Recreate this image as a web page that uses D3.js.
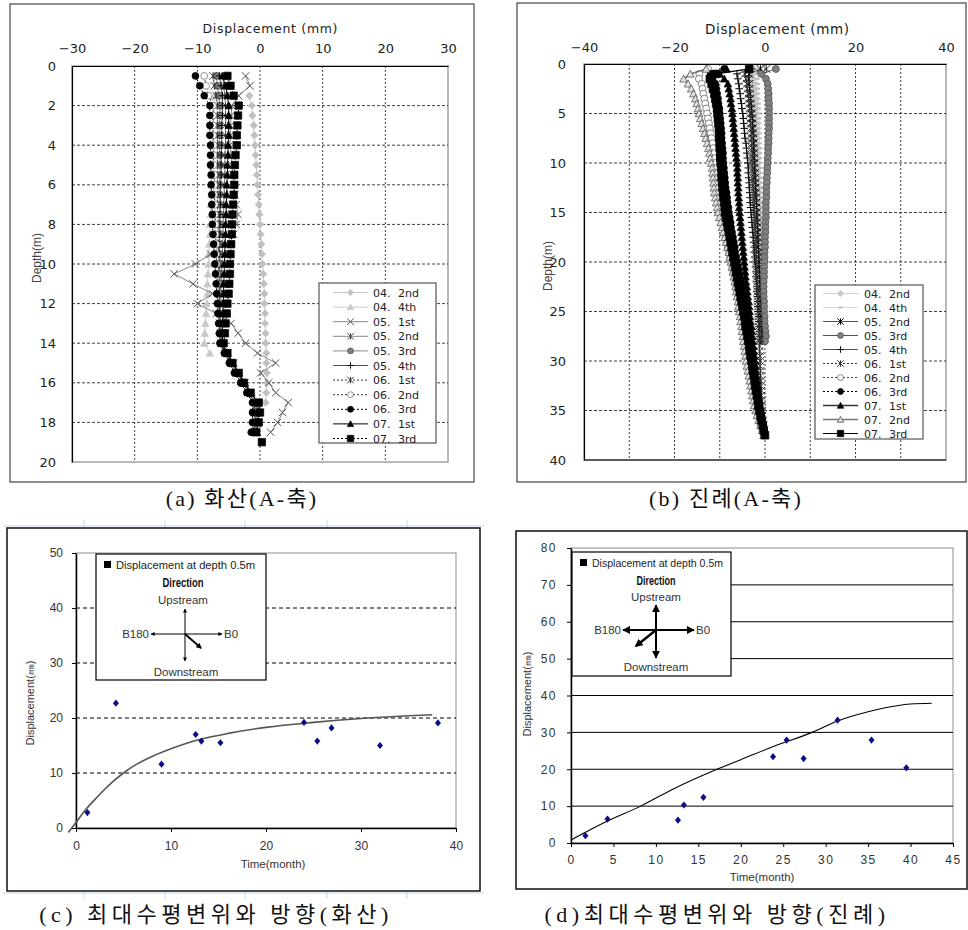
<!DOCTYPE html>
<html><head><meta charset="utf-8">
<script src="https://cdn.jsdelivr.net/npm/d3@7"></script>
<style>body{margin:0;background:#fff}svg{display:block}</style>
</head><body>
<script>
// ---------------- DATA ----------------
// Panel (a) 화산 — depth (m) and displacement (mm)
const depthA = [0.5,1,1.5,2,2.5,3,3.5,4,4.5,5,5.5,6,6.5,7,7.5,8,8.5,9,9.5,10,10.5,11,11.5,12,12.5,13,13.5,14,14.5,15,15.5,16,16.5,17,17.5,18,18.5,19];
const legendYearA = ["04.","04.","05.","05.","05.","05.","06.","06.","06.","07.","07."];
const legendOrdA  = ["2nd","4th","1st","2nd","3rd","4th","1st","2nd","3rd","1st","3rd"];
const a0402 = [null,null,-1.7,-1.3,-1.2,-1.0,-0.9,-0.8,-0.7,-0.6,-0.5,-0.4,-0.3,-0.2,-0.1,0.0,0.1,0.2,0.3,0.4,0.5,0.6,0.7,0.7,0.8,0.8,0.9,0.9,1.0,1.0,1.1,1.1,1.0,0.9];
const a0404 = [null,null,-7.2,-7.3,-7.4,-7.5,-7.5,-7.6,-7.6,-7.7,-7.7,-7.8,-7.8,-7.9,-7.9,-8.0,-8.0,-8.1,-8.2,-8.2,-8.3,-8.4,-8.4,-8.5,-8.6,-8.7,-8.8,-8.9,-8.0];
const a0501 = [-2.3,-1.6,-3.4,-4.5,-4.6,-4.7,-4.7,-4.8,-4.6,-4.5,-4.3,-4.2,-4.0,-3.8,-3.5,-3.8,-4.2,-5.5,-7.9,-10.3,-13.7,-10.7,-7.6,-10.0,-7.0,-4.6,-3.5,-2.3,-0.4,2.5,0.1,1.4,2.5,4.5,3.6,2.8,1.7];
const a0502 = [-6.0,-5.8,-5.6,-5.5,-5.5,-5.5,-5.5,-5.5,-5.6,-5.6,-5.6,-5.7,-5.7,-5.8,-5.8,-5.9,-5.9,-6.0,-6.0,-6.1,-6.1,-6.2,-6.2,-6.3,-6.3,-6.3,-6.2,-6.0,-5.2,-4.2,-3.4,-2.4,-1.5,-0.6,-0.5,-0.5,-0.6];
const a0503 = [-7.0,-6.8,-6.6,-6.4,-6.4,-6.5,-6.5,-6.5,-6.4,-6.4,-6.4,-6.5,-6.5,-6.4,-6.4,-6.4,-6.5,-6.5,-6.4,-6.4,-6.4,-6.3,-6.3,-6.4,-6.4,-6.3,-6.2,-6.1,-5.3,-4.4,-3.6,-2.6,-1.7,-0.8,-0.7,-0.7,-0.8];
const a0504 = [-6.5,-6.2,-6.0,-6.0,-6.0,-6.1,-6.1,-6.1,-6.2,-6.2,-6.2,-6.3,-6.3,-6.3,-6.4,-6.4,-6.4,-6.5,-6.5,-6.5,-6.5,-6.5,-6.5,-6.5,-6.4,-6.4,-6.3,-6.2,-5.4,-4.5,-3.7,-2.7,-1.8,-0.9,-0.8,-0.8,-0.9];
const a0601 = [-7.5,-7.3,-7.0,-6.8,-6.8,-6.8,-6.8,-6.8,-6.8,-6.8,-6.8,-6.8,-6.8,-6.8,-6.7,-6.7,-6.7,-6.7,-6.6,-6.6,-6.6,-6.5,-6.5,-6.5,-6.4,-6.4,-6.3,-6.2,-5.5,-4.6,-3.8,-2.8,-1.9,-1.0,-0.9,-0.9,-1.0];
const a0602 = [-8.9,-8.6,-8.2,-7.5,-7.5,-7.5,-7.5,-7.4,-7.4,-7.4,-7.3,-7.3,-7.3,-7.2,-7.2,-7.1,-7.1,-7.0,-7.0,-6.9,-6.9,-6.8,-6.8,-6.7,-6.6,-6.5,-6.4,-6.3,-5.6,-4.8,-4.0,-3.0,-2.0,-1.1,-1.1,-1.1,-1.2];
const a0603 = [-10.3,-9.6,-8.9,-8.0,-8.0,-8.0,-8.0,-7.9,-7.9,-7.9,-7.8,-7.8,-7.7,-7.7,-7.6,-7.6,-7.5,-7.4,-7.3,-7.2,-7.1,-7.0,-6.9,-6.8,-6.7,-6.6,-6.5,-6.4,-5.7,-4.9,-4.1,-3.1,-2.1,-1.2,-1.2,-1.2,-1.4];
const a0701 = [-6.0,-5.5,-5.2,-5.0,-5.0,-5.0,-5.0,-5.1,-5.1,-5.2,-5.2,-5.3,-5.3,-5.4,-5.4,-5.5,-5.5,-5.6,-5.6,-5.7,-5.7,-5.8,-5.8,-5.9,-5.9,-6.0,-6.0,-6.0,-5.2,-4.3,-3.4,-2.4,-1.4,-0.4,-0.3,-0.3,-0.5];
const a0703 = [-5.2,-4.7,-4.2,-3.4,-3.5,-3.6,-3.7,-3.7,-3.9,-4.0,-4.1,-4.1,-4.2,-4.3,-4.4,-4.5,-4.5,-4.6,-4.7,-4.8,-4.8,-4.9,-5.0,-5.2,-5.3,-5.5,-5.6,-5.8,-5.2,-4.4,-3.4,-2.6,-1.5,-0.2,0.0,-0.2,-0.6,0.3];

// Panel (b) 진례
const depthB = [0.5,1,1.5,2,2.5,3,3.5,4,4.5,5,5.5,6,6.5,7,7.5,8,8.5,9,9.5,10,10.5,11,11.5,12,12.5,13,13.5,14,14.5,15,15.5,16,16.5,17,17.5,18,18.5,19,19.5,20,20.5,21,21.5,22,22.5,23,23.5,24,24.5,25,25.5,26,26.5,27,27.5,28,28.5,29,29.5,30,30.5,31,31.5,32,32.5,33,33.5,34,34.5,35,35.5,36,36.5,37,37.5];
const legendYearB = ["04.","04.","05.","05.","05.","06.","06.","06.","07.","07.","07."];
const legendOrdB  = ["2nd","4th","2nd","3rd","4th","1st","2nd","3rd","1st","2nd","3rd"];
const b0402 = [-2.5,-2.8,-2.6,-2.4,-2.3,-2.2,-2.2,-2.1,-2.1,-2.0,-2.0,-1.9,-1.9,-1.8,-1.8,-1.8,-1.7,-1.7,-1.6,-1.6,-1.6,-1.5,-1.5,-1.5,-1.4,-1.4,-1.4,-1.3,-1.3,-1.3,-1.2,-1.2,-1.2,-1.1,-1.1,-1.1,-1.0,-1.0,-1.0,-0.9,-0.9,-0.9,-0.8,-0.8,-0.8,-0.7,-0.7,-0.7,-0.6,-0.6,-0.6,-0.5,-0.5,-0.5,-0.4,-0.4];
const b0404 = [-1.5,-1.8,-1.7,-1.6,-1.6,-1.5,-1.5,-1.4,-1.4,-1.4,-1.3,-1.3,-1.3,-1.2,-1.2,-1.2,-1.1,-1.1,-1.1,-1.0,-1.0,-1.0,-0.9,-0.9,-0.9,-0.8,-0.8,-0.8,-0.7,-0.7,-0.7,-0.7,-0.6,-0.6,-0.6,-0.6,-0.5,-0.5,-0.5,-0.5,-0.4,-0.4,-0.4,-0.4,-0.3,-0.3,-0.3,-0.3,-0.3,-0.2,-0.2,-0.2,-0.2,-0.2,-0.1,-0.1];
const b0502 = [-1.0,-3.5,-3.6,-3.5,-3.4,-3.3,-3.2,-3.1,-3.0,-2.9,-2.8,-2.8,-2.7,-2.6,-2.6,-2.5,-2.5,-2.4,-2.4,-2.3,-2.3,-2.2,-2.2,-2.1,-2.1,-2.0,-2.0,-1.9,-1.9,-1.8,-1.8,-1.7,-1.7,-1.6,-1.6,-1.5,-1.5,-1.4,-1.4,-1.3,-1.3,-1.2,-1.2,-1.1,-1.1,-1.0,-1.0,-0.9,-0.9,-0.8,-0.8,-0.7,-0.7,-0.6,-0.6,-0.5];
const b0503 = [2.4,-0.8,0.2,0.6,0.7,0.8,0.8,0.9,0.9,0.9,0.9,0.9,0.9,0.8,0.8,0.8,0.7,0.7,0.6,0.6,0.5,0.5,0.4,0.4,0.3,0.3,0.3,0.2,0.2,0.2,0.2,0.1,0.1,0.1,0.0,0.0,0.0,-0.1,-0.1,-0.1,-0.2,-0.2,-0.2,-0.3,-0.3,-0.3,-0.3,-0.2,-0.2,-0.2,-0.1,-0.1,0.0,0.1,0.2,0.0];
const b0504 = [-3.0,-6.2,-6.0,-5.8,-5.7,-5.5,-5.4,-5.2,-5.1,-4.9,-4.8,-4.7,-4.6,-4.5,-4.4,-4.2,-4.1,-4.0,-3.9,-3.8,-3.7,-3.7,-3.6,-3.5,-3.5,-3.4,-3.3,-3.3,-3.2,-3.1,-3.0,-2.9,-2.8,-2.7,-2.6,-2.5,-2.4,-2.4,-2.3,-2.2,-2.1,-2.0,-2.0,-1.9,-1.8,-1.8,-1.7,-1.6,-1.6,-1.5,-1.4,-1.4,-1.3,-1.2,-1.2,-1.1];
const b0601 = [0.3,-4.5,-4.2,-4.0,-3.9,-3.7,-3.6,-3.5,-3.4,-3.3,-3.2,-3.2,-3.1,-3.0,-3.0,-2.9,-2.9,-2.8,-2.8,-2.7,-2.7,-2.6,-2.6,-2.5,-2.5,-2.4,-2.4,-2.4,-2.3,-2.3,-2.2,-2.2,-2.1,-2.1,-2.0,-2.0,-2.0,-1.9,-1.9,-1.9,-1.8,-1.8,-1.8,-1.7,-1.7,-1.7,-1.6,-1.6,-1.6,-1.5,-1.5,-1.4,-1.4,-1.3,-1.3,-1.3,-1.2,-1.2,-1.1,-1.1,-1.1,-1.0,-1.0,-0.9,-0.9,-0.8,-0.8,-0.7,-0.7,-0.6,-0.5,-0.4,-0.3,-0.2,-0.1];
const b0602 = [-12.6,-14.5,-14.6,-14.0,-13.8,-13.6,-13.4,-13.2,-13.0,-12.8,-12.6,-12.4,-12.2,-12.0,-11.8,-11.6,-11.5,-11.3,-11.2,-11.0,-10.9,-10.8,-10.7,-10.6,-10.5,-10.4,-10.2,-10.1,-9.9,-9.8,-9.6,-9.3,-9.1,-8.8,-8.6,-8.4,-8.2,-7.9,-7.7,-7.5,-7.2,-7.0,-6.7,-6.5,-6.3,-6.1,-5.9,-5.6,-5.4,-5.2,-5.0,-4.9,-4.7,-4.5,-4.4,-4.2,-4.1,-3.9,-3.8,-3.6,-3.4,-3.3,-3.1,-2.9,-2.8,-2.6,-2.4,-2.2,-2.0,-1.8,-1.5,-1.2,-0.9,-0.6,-0.3];
const b0603 = [-9.0,-12.0,-11.6,-11.0,-10.8,-10.6,-10.4,-10.3,-10.1,-10.0,-9.9,-9.8,-9.7,-9.6,-9.6,-9.5,-9.4,-9.3,-9.3,-9.2,-9.1,-9.0,-8.9,-8.8,-8.7,-8.5,-8.4,-8.3,-8.1,-8.0,-7.8,-7.6,-7.5,-7.3,-7.1,-6.9,-6.7,-6.6,-6.4,-6.2,-6.0,-5.8,-5.6,-5.4,-5.2,-5.1,-4.9,-4.7,-4.5,-4.3,-4.2,-4.0,-3.9,-3.7,-3.6,-3.5,-3.3,-3.2,-3.0,-2.8,-2.7,-2.5,-2.3,-2.1,-2.0,-1.8,-1.6,-1.4,-1.2,-1.0,-0.8,-0.6,-0.4,-0.2,-0.1];
const b0701 = [-8.5,-10.0,-9.0,-8.2,-8.0,-7.8,-7.6,-7.5,-7.3,-7.2,-7.1,-7.0,-6.9,-6.8,-6.7,-6.6,-6.5,-6.4,-6.3,-6.2,-6.1,-6.1,-6.0,-6.0,-5.9,-5.9,-5.8,-5.7,-5.7,-5.6,-5.5,-5.4,-5.3,-5.2,-5.1,-5.0,-4.9,-4.8,-4.7,-4.6,-4.5,-4.4,-4.3,-4.2,-4.0,-3.9,-3.8,-3.6,-3.5,-3.4,-3.3,-3.2,-3.0,-2.9,-2.8,-2.7,-2.6,-2.5,-2.3,-2.2,-2.1,-2.0,-1.9,-1.7,-1.6,-1.5,-1.4,-1.3,-1.1,-1.0,-0.8,-0.6,-0.5,-0.3,-0.2];
const b0702 = [-13.0,-16.5,-18.0,-17.0,-16.3,-15.8,-15.4,-15.1,-14.8,-14.6,-14.3,-14.0,-13.7,-13.4,-13.1,-12.8,-12.5,-12.3,-12.1,-11.9,-11.7,-11.6,-11.5,-11.4,-11.3,-11.2,-11.0,-10.8,-10.6,-10.4,-10.1,-9.8,-9.5,-9.2,-8.9,-8.6,-8.3,-8.0,-7.8,-7.5,-7.3,-7.1,-6.9,-6.7,-6.5,-6.4,-6.2,-6.0,-5.9,-5.7,-5.5,-5.4,-5.2,-5.1,-4.9,-4.8,-4.6,-4.5,-4.3,-4.2,-4.0,-3.8,-3.6,-3.4,-3.2,-3.0,-2.8,-2.6,-2.4,-2.1,-1.8,-1.4,-1.0,-0.6,-0.3];
const b0703 = [-3.5,-10.8,-12.2,-11.8,-11.5,-11.2,-11.0,-10.8,-10.6,-10.5,-10.4,-10.3,-10.2,-10.1,-10.1,-10.0,-10.0,-9.9,-9.9,-9.8,-9.7,-9.6,-9.6,-9.5,-9.4,-9.3,-9.2,-9.0,-8.9,-8.8,-8.6,-8.4,-8.2,-8.0,-7.8,-7.6,-7.4,-7.2,-7.0,-6.8,-6.6,-6.4,-6.2,-6.0,-5.8,-5.6,-5.4,-5.2,-5.0,-4.8,-4.6,-4.4,-4.3,-4.1,-3.9,-3.7,-3.5,-3.4,-3.2,-3.0,-2.8,-2.7,-2.5,-2.3,-2.2,-2.0,-1.8,-1.6,-1.5,-1.3,-1.0,-0.8,-0.5,-0.3,0.0];

const xTicksA = [-30,-20,-10,0,10,20,30];
const yTicksA = [0,2,4,6,8,10,12,14,16,18,20];
const xTicksB = [-40,-20,0,20,40];
const yTicksB = [0,5,10,15,20,25,30,35,40];

// Panel (c) 화산 — time (month) vs displacement at depth 0.5 m
const timeC = [1.2,4.2,9.0,12.6,13.2,15.2,24.0,25.4,26.9,32.0,38.1];
const dispC = [2.8,22.7,11.6,17.0,15.8,15.5,19.2,15.8,18.2,15.0,19.1];
const trendTimeC = [-0.8,0,1,2,3,4,5,6,8,10,12,14,16,20,25,30,35,37.5];
const trendDispC = [-0.8,1.0,3.3,5.2,7.0,8.6,10.0,11.2,13.0,14.4,15.6,16.5,17.2,18.3,19.2,19.9,20.4,20.6];
const xTicksC = [0,10,20,30,40];
const yTicksC = [0,10,20,30,40,50];

// Panel (d) 진례
const timeD = [1.7,4.3,12.6,13.3,15.6,23.8,25.4,27.4,31.4,35.4,39.5];
const dispD = [2.0,6.5,6.2,10.3,12.4,23.4,27.9,22.9,33.3,27.9,20.4];
const trendTimeD = [0,4,8.2,12,17.2,20,24,28.4,31.4,35,38,40,42.5];
const trendDispD = [0.8,5.6,10,14.6,20,22.6,26.3,30,33.1,35.6,37.1,37.7,37.9];
const xTicksD = [0,5,10,15,20,25,30,35,40,45];
const yTicksD = [0,10,20,30,40,50,60,70,80];

// ---------------- DRAWING ----------------
const W = 968, H = 930;
const svg = d3.select('body').append('svg').attr('width', W).attr('height', H);
svg.append('rect').attr('width', W).attr('height', H).attr('fill', '#fff');
const defs = svg.append('defs');
defs.append('marker').attr('id','ahs').attr('viewBox','0 0 10 10').attr('refX',9).attr('refY',5)
  .attr('markerWidth',4).attr('markerHeight',4).attr('orient','auto-start-reverse')
  .append('path').attr('d','M0,0L10,5L0,10z').attr('fill','#000');
defs.append('marker').attr('id','ahb').attr('viewBox','0 0 10 10').attr('refX',8).attr('refY',5)
  .attr('markerWidth',3.2).attr('markerHeight',3.2).attr('orient','auto')
  .append('path').attr('d','M0,0L10,5L0,10z').attr('fill','#000');

const SANS = '"DejaVu Sans", sans-serif';
const ARIAL = '"Liberation Sans", Arial, sans-serif';
const CAP = '"Liberation Serif", "Noto Sans CJK KR", serif';

function markerPath(type, r) {
  switch (type) {
    case 'square': return `M${-r},${-r}h${2*r}v${2*r}h${-2*r}Z`;
    case 'triangle': return `M0,${-r}L${r},${r*0.85}L${-r},${r*0.85}Z`;
    case 'diamond': return `M0,${-r}L${r},0L0,${r}L${-r},0Z`;
    case 'x': return `M${-r},${-r}L${r},${r}M${-r},${r}L${r},${-r}`;
    case 'asterisk': return `M${-r},${-r}L${r},${r}M${-r},${r}L${r},${-r}M0,${-r}L0,${r}`;
    case 'plus': return `M${-r},0L${r},0M0,${-r}L0,${r}`;
    case 'dash': return `M${-r*0.6},0L${r*0.6},0`;
  }
  return '';
}
function drawMarker(g, st, cx, cy, r) {
  if (st.m === 'circle') {
    g.append('circle').attr('cx', cx).attr('cy', cy).attr('r', r*0.92)
      .attr('fill', st.fill).attr('stroke', st.stroke).attr('stroke-width', 0.8);
  } else {
    const open = (st.m === 'x' || st.m === 'asterisk' || st.m === 'plus' || st.m === 'dash');
    g.append('path').attr('transform', `translate(${cx},${cy})`).attr('d', markerPath(st.m, r))
      .attr('fill', open ? 'none' : st.fill).attr('stroke', st.stroke)
      .attr('stroke-width', st.m === 'dash' ? 2 : (open ? 1 : 0.7));
  }
}

function depthPanel(c) {
  const x = d3.scaleLinear().domain(c.xDom).range([c.x0, c.x1]);
  const y = d3.scaleLinear().domain([0, c.yMax]).range([c.y0, c.y1]);
  const g = svg.append('g');
  g.append('rect').attr('x', c.fx0).attr('y', c.fy0).attr('width', c.fx1 - c.fx0).attr('height', c.fy1 - c.fy0)
    .attr('fill', '#fff').attr('stroke', '#444').attr('stroke-width', 1.2);
  g.append('rect').attr('x', c.x0).attr('y', c.y0).attr('width', c.x1 - c.x0).attr('height', c.y1 - c.y0)
    .attr('fill', '#fff').attr('stroke', '#a8a8a8').attr('stroke-width', 1.6);
  c.xGrid.forEach(v => g.append('line').attr('x1', x(v)).attr('x2', x(v)).attr('y1', c.y0).attr('y2', c.y1)
    .attr('stroke', '#111').attr('stroke-width', 0.8).attr('stroke-dasharray', '2,2'));
  c.yGrid.forEach(v => g.append('line').attr('x1', c.x0).attr('x2', c.x1).attr('y1', y(v)).attr('y2', y(v))
    .attr('stroke', '#111').attr('stroke-width', 0.8).attr('stroke-dasharray', '3,2'));
  const axT = g.append('g').attr('transform', `translate(0,${c.y0})`)
    .call(d3.axisTop(x).tickValues(c.xTicks).tickSize(0).tickPadding(c.xPad).tickFormat(d3.format('d')));
  const axL = g.append('g').attr('transform', `translate(${c.x0},0)`)
    .call(d3.axisLeft(y).tickValues(c.yTicks).tickSize(0).tickPadding(c.yPad).tickFormat(d3.format('d')));
  if (c.bottomBlack) g.append('line').attr('x1', c.x0).attr('x2', c.x1).attr('y1', c.y1).attr('y2', c.y1).attr('stroke', '#000');
  [axT, axL].forEach(a => {
    a.attr('font-family', SANS).attr('font-size', c.tickFs);
    a.select('.domain').attr('stroke', '#000').attr('stroke-width', 1.2);
    a.selectAll('text').attr('fill', '#222');
  });
  g.append('text').attr('x', c.titleX).attr('y', c.titleY).attr('text-anchor', 'middle')
    .attr('font-family', SANS).attr('font-size', c.titleFs).attr('fill', '#222')
    .attr('textLength', c.titleL).attr('lengthAdjust', 'spacing').text('Displacement (mm)');
  g.append('text').attr('transform', `translate(${c.ylabX},${c.ylabY}) rotate(-90)`).attr('text-anchor', 'middle')
    .attr('font-family', ARIAL).attr('font-size', 12).attr('fill', '#444').text('Depth(m)');

  const line = d3.line().x(p => x(p[0])).y(p => y(p[1]));
  c.series.forEach(s => {
    const pts = c.depth.map((d, i) => [s.v[i], d]).filter(p => p[0] !== null && p[0] !== undefined);
    g.append('path').attr('d', line(pts)).attr('fill', 'none').attr('stroke', s.st.line)
      .attr('stroke-width', s.st.lw || 1).attr('stroke-dasharray', s.st.dash || null);
    const mg = g.append('g');
    pts.forEach(p => drawMarker(mg, s.st, x(p[0]), y(p[1]), c.mr));
  });

  // legend
  const L = c.legend;
  g.append('rect').attr('x', L.x).attr('y', L.y).attr('width', L.w).attr('height', L.h)
    .attr('fill', '#fff').attr('stroke', '#555').attr('stroke-width', 1.2);
  c.series.forEach((s, i) => {
    const yy = L.r0 + i * L.dy;
    g.append('line').attr('x1', L.lx0).attr('x2', L.lx1).attr('y1', yy).attr('y2', yy)
      .attr('stroke', s.st.line).attr('stroke-width', s.st.lw || 1).attr('stroke-dasharray', s.st.dash || null);
    drawMarker(g, s.st, (L.lx0 + L.lx1) / 2, yy, 3.2);
    g.append('text').attr('x', L.tx1).attr('y', yy + 4).attr('font-family', SANS).attr('font-size', 11).attr('fill', '#222').text(s.year);
    g.append('text').attr('x', L.tx2).attr('y', yy + 4).attr('font-family', SANS).attr('font-size', 11).attr('fill', '#222').text(s.ord);
  });
}

const styleA = [
  {m:'diamond', fill:'#c0c0c0', stroke:'#c0c0c0', line:'#c8c8c8'},
  {m:'triangle', fill:'#c8c8c8', stroke:'#c8c8c8', line:'#cccccc'},
  {m:'x', fill:'none', stroke:'#555', line:'#888'},
  {m:'asterisk', fill:'none', stroke:'#444', line:'#888'},
  {m:'circle', fill:'#808080', stroke:'#555', line:'#888'},
  {m:'plus', fill:'none', stroke:'#000', line:'#555'},
  {m:'asterisk', fill:'none', stroke:'#333', line:'#333', dash:'2,2'},
  {m:'circle', fill:'#fff', stroke:'#777', line:'#333', dash:'2,2'},
  {m:'circle', fill:'#000', stroke:'#000', line:'#000', dash:'2,2'},
  {m:'triangle', fill:'#000', stroke:'#000', line:'#000'},
  {m:'square', fill:'#000', stroke:'#000', line:'#000', dash:'2,2'}
];
const valsA = [a0402,a0404,a0501,a0502,a0503,a0504,a0601,a0602,a0603,a0701,a0703];
depthPanel({
  fx0:10, fy0:4, fx1:474, fy1:482,
  x0:72, x1:448, y0:66, y1:462, xDom:[-30,30], yMax:20,
  xTicks:xTicksA, yTicks:yTicksA, xGrid:[-20,-10,0,10,20], yGrid:[2,4,6,8,10,12,14,16,18],
  xPad:13, yPad:16, titleX:270, titleY:33, titleL:135, titleFs:12.5, tickFs:13, ylabX:41, ylabY:258, mr:3.7,
  depth: depthA,
  series: valsA.map((v,i) => ({v, st:styleA[i], year:legendYearA[i], ord:legendOrdA[i]})),
  legend: {x:319, y:283, w:117, h:160, r0:292.5, dy:14.6, lx0:333, lx1:368, tx1:373, tx2:398}
});

const styleB = [
  {m:'diamond', fill:'#c8c8c8', stroke:'#c8c8c8', line:'#d0d0d0'},
  {m:'dash', fill:'none', stroke:'#bdbdbd', line:'#d8d8d8'},
  {m:'asterisk', fill:'none', stroke:'#000', line:'#555'},
  {m:'circle', fill:'#808080', stroke:'#555', line:'#555'},
  {m:'plus', fill:'none', stroke:'#000', line:'#555'},
  {m:'asterisk', fill:'none', stroke:'#333', line:'#333', dash:'2,2'},
  {m:'circle', fill:'#fff', stroke:'#666', line:'#444', dash:'2,2'},
  {m:'circle', fill:'#000', stroke:'#000', line:'#000', dash:'2,2'},
  {m:'triangle', fill:'#000', stroke:'#000', line:'#333', lw:1.6},
  {m:'triangle', fill:'#e0e0e0', stroke:'#444', line:'#777', lw:1.6},
  {m:'square', fill:'#000', stroke:'#000', line:'#000', lw:1.2}
];
const valsB = [b0402,b0404,b0502,b0503,b0504,b0601,b0602,b0603,b0701,b0702,b0703];
depthPanel({
  fx0:517, fy0:3, fx1:966, fy1:482,
  x0:584, x1:946, y0:64, y1:460, xDom:[-40,40], yMax:40,
  xTicks:xTicksB, yTicks:yTicksB, xGrid:[-30,-20,-10,0,10,20,30], yGrid:[5,10,15,20,25,30,35],
  xPad:12, yPad:18, titleX:777, titleY:34, titleL:144, titleFs:13.5, tickFs:13, ylabX:552, ylabY:266, mr:3.8, bottomBlack:true,
  depth: depthB,
  series: valsB.map((v,i) => ({v, st:styleB[i], year:legendYearB[i], ord:legendOrdB[i]})),
  legend: {x:815, y:285, w:108, h:154, r0:293.5, dy:14, lx0:823, lx1:858, tx1:864, tx2:889}
});

function timePanel(c) {
  const x = d3.scaleLinear().domain([0, c.xMax]).range([c.x0, c.x1]);
  const y = d3.scaleLinear().domain([0, c.yMax]).range([c.y1, c.y0]);
  const g = svg.append('g');
  g.append('rect').attr('x', c.fx0).attr('y', c.fy0).attr('width', c.fx1 - c.fx0).attr('height', c.fy1 - c.fy0)
    .attr('fill', '#fff').attr('stroke', '#111').attr('stroke-width', 1.5);
  g.append('rect').attr('x', c.x0).attr('y', c.y0).attr('width', c.x1 - c.x0).attr('height', c.y1 - c.y0)
    .attr('fill', '#fff').attr('stroke', '#a0a0a0').attr('stroke-width', 1.2);
  c.yTicks.filter(v => v > 0 && v < c.yMax).forEach(v => g.append('line')
    .attr('x1', c.x0).attr('x2', c.x1).attr('y1', y(v)).attr('y2', y(v))
    .attr('stroke', '#000').attr('stroke-width', 1).attr('stroke-dasharray', c.dash ? '4,3' : null));
  const axB = g.append('g').attr('transform', `translate(0,${c.y1})`)
    .call(d3.axisBottom(x).tickValues(c.xTicks).tickSize(4).tickSizeOuter(0).tickPadding(c.xPad).tickFormat(d3.format('d')));
  const axL = g.append('g').attr('transform', `translate(${c.x0},0)`)
    .call(d3.axisLeft(y).tickValues(c.yTicks).tickSize(4).tickSizeOuter(0).tickPadding(c.yPad).tickFormat(d3.format('d')));
  [axB, axL].forEach(a => {
    a.attr('font-family', ARIAL).attr('font-size', 12);
    a.select('.domain').attr('stroke', '#000').attr('stroke-width', 1.5);
    a.selectAll('line').attr('stroke', '#000');
    a.selectAll('text').attr('fill', '#333').attr('letter-spacing', c.ls);
  });
  g.append('text').attr('x', c.xlabX).attr('y', c.xlabY).attr('text-anchor', 'middle')
    .attr('font-family', ARIAL).attr('font-size', 11.5).attr('fill', '#333').text('Time(month)');
  g.append('text').attr('transform', `translate(${c.ylabX},${c.ylabY}) rotate(-90)`).attr('text-anchor', 'middle')
    .attr('font-family', ARIAL).attr('font-size', 11).attr('fill', '#333').text('Displacement(㎜)');

  const tl = d3.line().x(d => x(d[0])).y(d => y(d[1])).curve(d3.curveMonotoneX);
  g.append('path').attr('d', tl(c.tt.map((t, i) => [t, c.td[i]]))).attr('fill', 'none')
    .attr('stroke', c.curveColor).attr('stroke-width', c.curveW);
  c.t.forEach((t, i) => g.append('path').attr('transform', `translate(${x(t)},${y(c.d[i])})`)
    .attr('d', 'M0,-3.6L3,0L0,3.6L-3,0Z').attr('fill', '#0b0b86'));

  // legend / direction inset
  const L = c.leg;
  g.append('rect').attr('x', L.x).attr('y', L.y).attr('width', L.w).attr('height', L.h)
    .attr('fill', '#fff').attr('stroke', '#000').attr('stroke-width', 1.2);
  g.append('rect').attr('x', L.sqx).attr('y', L.sqy).attr('width', 7).attr('height', 7).attr('fill', '#000');
  g.append('text').attr('x', L.tx).attr('y', L.ty).attr('font-family', ARIAL).attr('font-size', 11)
    .attr('fill', '#222').attr('textLength', L.tl).attr('lengthAdjust', 'spacingAndGlyphs').text('Displacement at depth 0.5m');
  g.append('text').attr('x', L.cx).attr('y', L.dirY).attr('text-anchor', 'middle').attr('font-family', ARIAL)
    .attr('font-size', 12).attr('font-weight', 'bold').attr('fill', '#111').attr('textLength', L.dirL)
    .attr('lengthAdjust', 'spacingAndGlyphs').text('Direction');
  g.append('text').attr('x', L.cx).attr('y', L.upY).attr('text-anchor', 'middle').attr('font-family', ARIAL)
    .attr('font-size', 11.5).attr('fill', '#333').text('Upstream');
  g.append('text').attr('x', L.cx + L.dnOff).attr('y', L.dnY).attr('text-anchor', 'middle').attr('font-family', ARIAL)
    .attr('font-size', 11.5).attr('fill', '#333').text('Downstream');
  g.append('line').attr('x1', L.vx).attr('x2', L.vx).attr('y1', L.vy0).attr('y2', L.vy1).attr('stroke', '#000')
    .attr('stroke-width', L.cw).attr('marker-start', 'url(#ahs)').attr('marker-end', 'url(#ahs)');
  g.append('line').attr('x1', L.hx0).attr('x2', L.hx1).attr('y1', L.hy).attr('y2', L.hy).attr('stroke', '#000')
    .attr('stroke-width', L.cw).attr('marker-start', 'url(#ahs)').attr('marker-end', 'url(#ahs)');
  g.append('text').attr('x', L.hx0 - 2).attr('y', L.hy + 4).attr('text-anchor', 'end').attr('font-family', ARIAL)
    .attr('font-size', 11.5).attr('fill', '#333').text('B180');
  g.append('text').attr('x', L.hx1 + 2).attr('y', L.hy + 4).attr('font-family', ARIAL)
    .attr('font-size', 11.5).attr('fill', '#333').text('B0');
  g.append('line').attr('x1', L.vx).attr('y1', L.hy).attr('x2', L.ax).attr('y2', L.ay).attr('stroke', '#000')
    .attr('stroke-width', L.aw).attr('marker-end', 'url(#ahb)');
}

// faint spreadsheet grid around panel (c)
(function () {
  const g = svg.append('g').attr('stroke', '#c9d6e3').attr('stroke-width', 1);
  g.append('line').attr('x1', 3).attr('x2', 484).attr('y1', 526).attr('y2', 526);
  g.append('line').attr('x1', 3).attr('x2', 484).attr('y1', 893).attr('y2', 893);
  [84, 165, 245, 327, 407].forEach(v => {
    g.append('line').attr('x1', v).attr('x2', v).attr('y1', 520).attr('y2', 528);
    g.append('line').attr('x1', v).attr('x2', v).attr('y1', 891).attr('y2', 899);
  });
})();

timePanel({
  fx0:7, fy0:528, fx1:480, fy1:891, x0:76, x1:456, y0:553, y1:828, xMax:40, yMax:50,
  xTicks:xTicksC, yTicks:yTicksC, dash:true, xPad:9, yPad:9, ls:0,
  xlabX:273, xlabY:868, ylabX:34, ylabY:703,
  t:timeC, d:dispC, tt:trendTimeC, td:trendDispC, curveColor:'#555', curveW:1.6,
  leg:{x:96, y:554, w:170, h:126, sqx:104, sqy:561, tx:116, ty:569, tl:139, cx:183, dirY:587, dirL:41,
       upY:604, dnY:676, dnOff:3, vx:185, vy0:609, vy1:661, hx0:151, hx1:222, hy:634, cw:1,
       ax:201, ay:648, aw:1.8}
});
timePanel({
  fx0:516, fy0:531, fx1:967, fy1:889, x0:571, x1:953, y0:548, y1:843, xMax:45, yMax:80,
  xTicks:xTicksD, yTicks:yTicksD, dash:false, xPad:8, yPad:10, ls:1.5,
  xlabX:762, xlabY:881, ylabX:531, ylabY:694,
  t:timeD, d:dispD, tt:trendTimeD, td:trendDispD, curveColor:'#000', curveW:1.1,
  leg:{x:572, y:552, w:159, h:124, sqx:580, sqy:559, tx:592, ty:567, tl:131, cx:656, dirY:585, dirL:39,
       upY:601, dnY:671, dnOff:0, vx:656, vy0:605, vy1:658, hx0:623, hx1:694, hy:630, cw:2,
       ax:636, ay:646, aw:2.5}
});

// captions
const captions = [
  {t:'(a) 화산(A-축)', x:242, y:506, ls:2.2, fs:22},
  {t:'(b) 진례(A-축)', x:726, y:506, ls:2.2, fs:22},
  {t:'(c) 최대수평변위와 방향(화산)', x:216, y:922, ls:4.5, fs:22},
  {t:'(d)최대수평변위와 방향(진례)', x:717, y:922, ls:4.5, fs:22}
];
captions.forEach(c => svg.append('text').attr('x', c.x).attr('y', c.y).attr('text-anchor', 'middle')
  .attr('font-family', CAP).attr('font-size', c.fs).attr('fill', '#111').attr('letter-spacing', c.ls).text(c.t));
</script>
</body></html>
